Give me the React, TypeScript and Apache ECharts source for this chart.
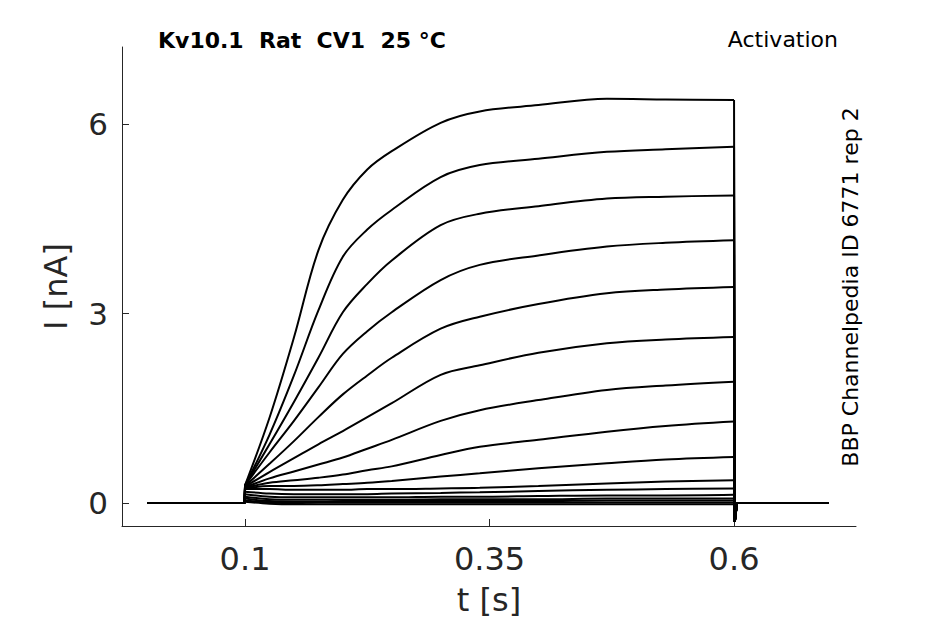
import React, { useEffect, useRef } from "react";
import * as echarts from "echarts";

// time grid (s) of the read points during the activation step
const stepTimes = [0.1, 0.125, 0.15, 0.175, 0.2, 0.225, 0.25, 0.3, 0.34, 0.4, 0.47, 0.53, 0.6];

// current traces (nA) read at stepTimes
const trace1 = [0.28, 1.35, 2.62, 4.0, 4.8, 5.28, 5.57, 6.02, 6.2, 6.3, 6.4, 6.39, 6.38];
const trace2 = [0.28, 1.08, 2.02, 3.05, 3.9, 4.33, 4.64, 5.16, 5.35, 5.45, 5.56, 5.6, 5.64];
const trace3 = [0.28, 0.93, 1.6, 2.3, 3.02, 3.47, 3.84, 4.4, 4.58, 4.7, 4.82, 4.85, 4.87];
const trace4 = [0.28, 0.8, 1.3, 1.83, 2.36, 2.72, 3.02, 3.53, 3.77, 3.92, 4.06, 4.12, 4.16];
const trace5 = [0.27, 0.62, 0.98, 1.36, 1.72, 2.02, 2.3, 2.76, 2.95, 3.15, 3.32, 3.38, 3.42];
const trace6 = [0.26, 0.49, 0.71, 0.93, 1.14, 1.36, 1.58, 2.03, 2.18, 2.38, 2.53, 2.59, 2.63];
const trace7 = [0.25, 0.39, 0.5, 0.61, 0.72, 0.86, 1.0, 1.3, 1.47, 1.63, 1.79, 1.86, 1.92];
const trace8 = [0.24, 0.32, 0.36, 0.4, 0.45, 0.52, 0.58, 0.76, 0.89, 1.0, 1.13, 1.22, 1.29];
const trace9 = [0.23, 0.27, 0.27, 0.28, 0.3, 0.32, 0.35, 0.42, 0.47, 0.55, 0.63, 0.69, 0.73];
const trace10 = [0.22, 0.22, 0.21, 0.21, 0.21, 0.22, 0.22, 0.23, 0.24, 0.27, 0.31, 0.34, 0.36];
const trace11 = [0.18, 0.15, 0.14, 0.14, 0.14, 0.14, 0.15, 0.16, 0.17, 0.19, 0.21, 0.22, 0.23];
const trace12 = [0.14, 0.1, 0.09, 0.09, 0.09, 0.09, 0.09, 0.1, 0.1, 0.11, 0.12, 0.12, 0.13];
const trace13 = [0.1, 0.06, 0.05, 0.05, 0.05, 0.05, 0.05, 0.06, 0.06, 0.06, 0.07, 0.07, 0.07];
const trace14 = [0.07, 0.03, 0.02, 0.02, 0.03, 0.03, 0.03, 0.03, 0.03, 0.03, 0.04, 0.04, 0.04];
const trace15 = [0.04, 0.01, 0.0, 0.01, 0.01, 0.01, 0.01, 0.01, 0.01, 0.01, 0.01, 0.01, 0.01];
const trace16 = [0.02, -0.01, -0.02, -0.02, -0.02, -0.02, -0.02, -0.02, -0.02, -0.02, -0.02, -0.02, -0.02];

const traces = [
  trace1, trace2, trace3, trace4, trace5, trace6, trace7, trace8,
  trace9, trace10, trace11, trace12, trace13, trace14, trace15, trace16,
];

// holding periods before / after the step
const preTimes = [0.0, 0.0995];
const preValues = [0.0, 0.0];
const postTimes = [0.6008, 0.603, 0.697];
const postValues = [-0.3, 0.0, 0.0];

const xTicks = [0.1, 0.35, 0.6];
const yTicks = [0, 3, 6];

const FONT = "DejaVu Sans";
const AXIS_COLOR = "#262626";

export default function App() {
  const ref = useRef<HTMLDivElement>(null);

  useEffect(() => {
    document.body.style.margin = "0";
    if (!ref.current) return;
    const chart = echarts.init(ref.current, undefined, { renderer: "svg" });

    const series = traces.map((tr, i) => {
      const pre: number[][] = preTimes.map((t, k) => [t, preValues[k]]);
      const step: number[][] = stepTimes.map((t, k) => [t, tr[k]]);
      const post: number[][] = postTimes.map((t, k) => [t, postValues[k]]);
      return [
        {
          type: "line",
          name: "trace" + (i + 1) + "-step",
          data: step,
          showSymbol: false,
          silent: true,
          smooth: 0.35,
          lineStyle: { color: "#000", width: 2 },
          z: 2,
        },
        {
          type: "line",
          name: "trace" + (i + 1) + "-hold",
          data: [...pre, step[0]],
          showSymbol: false,
          silent: true,
          lineStyle: { color: "#000", width: 2 },
          z: 2,
        },
        {
          type: "line",
          name: "trace" + (i + 1) + "-tail",
          data: [step[step.length - 1], ...post],
          showSymbol: false,
          silent: true,
          lineStyle: { color: "#000", width: 2 },
          z: 2,
        },
      ];
    }).flat();

    chart.setOption({
      animation: false,
      backgroundColor: "#ffffff",
      grid: { left: 122, right: 89, top: 47, bottom: 98, containLabel: false },
      xAxis: {
        type: "value",
        min: -0.0258,
        max: 0.7247,
        name: "t [s]",
        nameLocation: "middle",
        nameGap: 58,
        nameTextStyle: { fontFamily: FONT, fontSize: 32, color: AXIS_COLOR },
        axisLine: { show: true, onZero: false, lineStyle: { color: AXIS_COLOR, width: 1 } },
        axisTick: { show: true, inside: true, length: 7, customValues: xTicks, lineStyle: { color: AXIS_COLOR } },
        axisLabel: {
          customValues: xTicks,
          fontFamily: FONT,
          fontSize: 32,
          color: AXIS_COLOR,
          margin: 17,
          formatter: (v: number) => String(v),
        },
        splitLine: { show: false },
      },
      yAxis: {
        type: "value",
        min: -0.364,
        max: 7.22,
        name: "I [nA]",
        nameLocation: "middle",
        nameGap: 50,
        nameRotate: 90,
        nameTextStyle: { fontFamily: FONT, fontSize: 32, color: AXIS_COLOR },
        axisLine: { show: true, onZero: false, lineStyle: { color: AXIS_COLOR, width: 1 } },
        axisTick: { show: true, inside: true, length: 7, customValues: yTicks, lineStyle: { color: AXIS_COLOR } },
        axisLabel: {
          customValues: yTicks,
          fontFamily: FONT,
          fontSize: 31,
          color: AXIS_COLOR,
          margin: 14,
          formatter: (v: number) => String(v),
        },
        splitLine: { show: false },
      },
      graphic: [
        {
          type: "text",
          x: 158,
          y: 40,
          style: {
            text: "Kv10.1  Rat  CV1  25 °C",
            fontFamily: FONT,
            fontSize: 22,
            fontWeight: "bold",
            fill: "#000",
            align: "left",
            verticalAlign: "middle",
          },
        },
        {
          type: "text",
          x: 838,
          y: 39,
          style: {
            text: "Activation",
            fontFamily: FONT,
            fontSize: 22,
            fill: "#000",
            align: "right",
            verticalAlign: "middle",
          },
        },
        {
          type: "text",
          x: 850,
          y: 287,
          rotation: Math.PI / 2,
          style: {
            text: "BBP Channelpedia ID 6771 rep 2",
            fontFamily: FONT,
            fontSize: 22,
            fill: "#000",
            align: "center",
            verticalAlign: "middle",
          },
        },
      ],
      series,
    });

    return () => chart.dispose();
  }, []);

  return <div ref={ref} style={{ width: 945, height: 624 }} />;
}
